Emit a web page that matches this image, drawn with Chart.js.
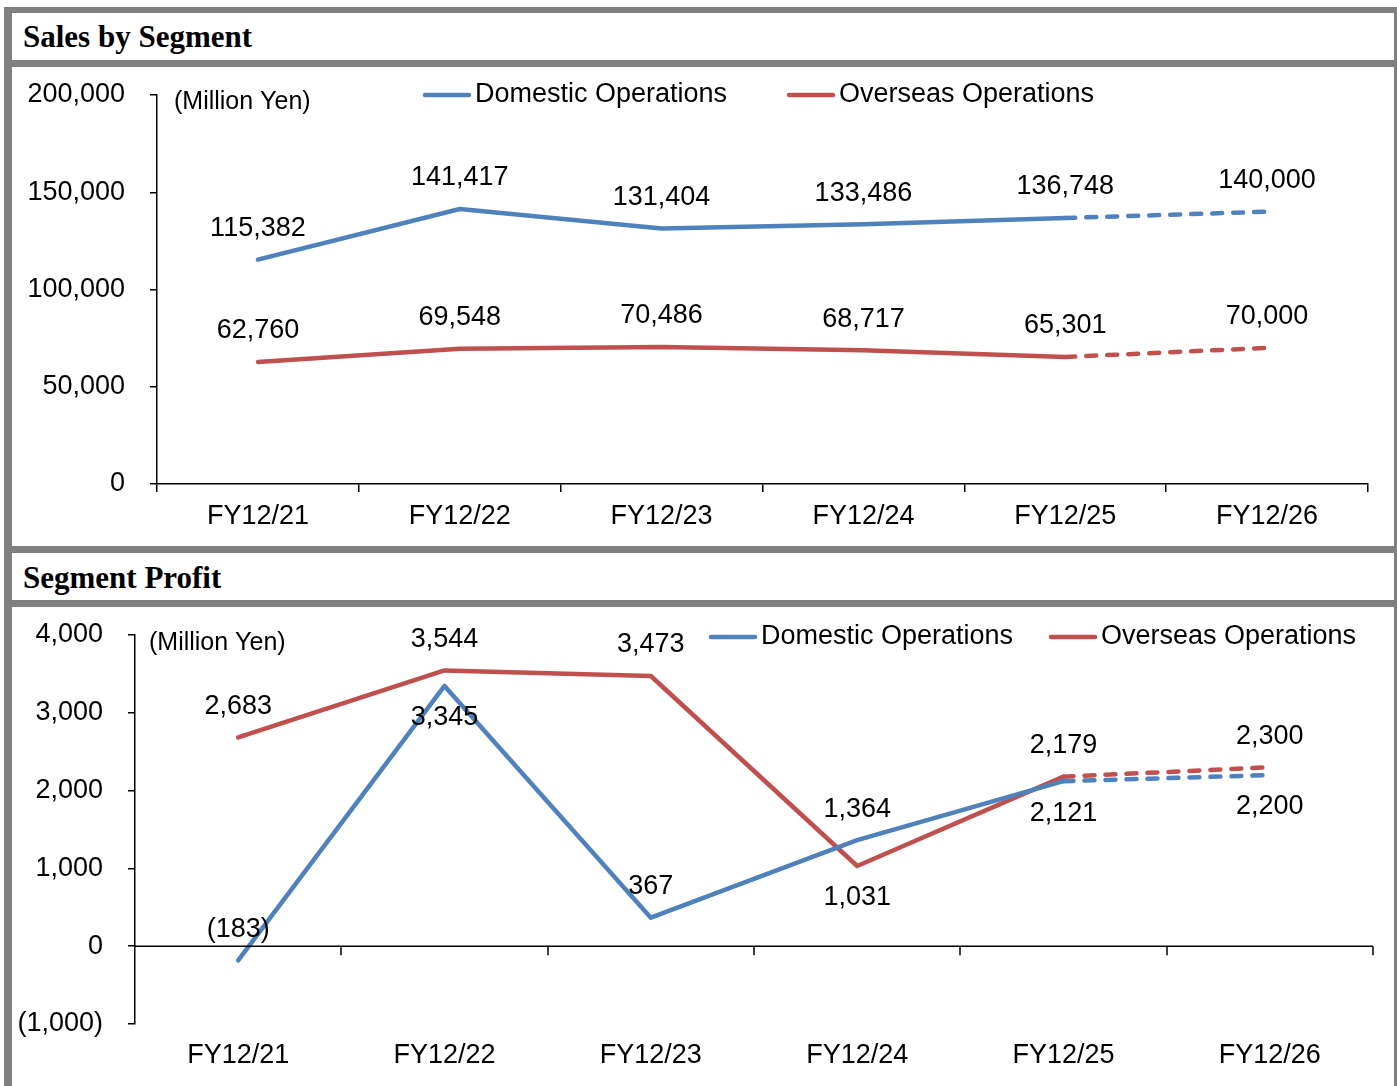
<!DOCTYPE html>
<html>
<head>
<meta charset="utf-8">
<script src="https://cdn.jsdelivr.net/npm/chart.js@4.4.1/dist/chart.umd.min.js"></script>
<style>
  body { margin: 0; background: #fff; width: 1397px; height: 1086px; overflow: hidden; position: relative; }
  .g { position: absolute; background: #808080; }
  .title { position: absolute; left: 23px; font: bold 31px "Liberation Serif", "Times New Roman", serif; line-height: 30px; color: #000; white-space: nowrap; }
  canvas { position: absolute; }
</style>
</head>
<body>
<div class="g" style="left:4px;top:7px;width:1393px;height:6px"></div>
<div class="g" style="left:4px;top:7px;width:8px;height:1079px"></div>
<div class="g" style="left:1394px;top:7px;width:3px;height:1079px"></div>
<div class="g" style="left:4px;top:60px;width:1393px;height:7px"></div>
<div class="g" style="left:4px;top:546px;width:1393px;height:7px"></div>
<div class="g" style="left:4px;top:600px;width:1393px;height:7px"></div>
<div class="title" style="top:22px">Sales by Segment</div>
<div class="title" style="top:563px">Segment Profit</div>
<canvas id="salesChart" width="1382" height="479" style="left:12px;top:67px"></canvas>
<canvas id="profitChart" width="1382" height="479" style="left:12px;top:607px"></canvas>
<script>
const years = ["FY12/21", "FY12/22", "FY12/23", "FY12/24", "FY12/25", "FY12/26"];
const salesDomestic = [115382, 141417, 131404, 133486, 136748, 140000];
const salesOverseas = [62760, 69548, 70486, 68717, 65301, 70000];
const profitDomestic = [-183, 3345, 367, 1364, 2121, 2200];
const profitOverseas = [2683, 3544, 3473, 1031, 2179, 2300];

const BLUE = "#4F81BD";
const RED = "#C0504D";
const FONT = "'Liberation Sans', Arial, sans-serif";
const FS = 27;

function fmt(v) {
  const s = Math.abs(v).toLocaleString("en-US");
  return v < 0 ? "(" + s + ")" : s;
}

// forecast year drawn dashed
const dashed = { borderDash: (ctx) => (ctx.p0DataIndex >= 4 ? [10, 11] : undefined) };

function series(label, data, color, below) {
  return {
    label, data, borderColor: color, backgroundColor: color,
    borderWidth: 4.5, pointRadius: 0, borderCapStyle: "round", borderJoinStyle: "round",
    tension: 0, segment: dashed, labelBelow: below || [],
  };
}

const valueLabels = {
  id: "valueLabels",
  afterDatasetsDraw(chart) {
    const ctx = chart.ctx;
    ctx.save();
    ctx.font = FS + "px " + FONT;
    ctx.fillStyle = "#000";
    ctx.textAlign = "center";
    ctx.textBaseline = "middle";
    chart.data.datasets.forEach((ds, di) => {
      chart.getDatasetMeta(di).data.forEach((pt, i) => {
        const dy = ds.labelBelow.includes(i) ? 32 : -31;
        ctx.fillText(fmt(ds.data[i]), pt.x, pt.y + dy);
      });
    });
    ctx.restore();
  },
};

const extras = {
  id: "extras",
  afterDraw(chart, args, opts) {
    const ctx = chart.ctx;
    ctx.save();
    ctx.font = "25px " + FONT;
    ctx.fillStyle = "#000";
    ctx.textBaseline = "middle";
    ctx.fillText("(Million Yen)", opts.unit[0], opts.unit[1]);
    ctx.font = FS + "px " + FONT;
    chart.data.datasets.forEach((ds, i) => {
      const [x, y] = opts.legend[i];
      ctx.strokeStyle = ds.borderColor;
      ctx.lineWidth = 4.5;
      ctx.lineCap = "round";
      ctx.beginPath();
      ctx.moveTo(x, y);
      ctx.lineTo(x + 44, y);
      ctx.stroke();
      ctx.fillText(ds.label, x + 50, y);
    });
    ctx.restore();
  },
};

const zeroLine = {
  id: "zeroLine",
  afterDatasetsDraw(chart, args, opts) {
    if (!opts.show) return;
    const { ctx, chartArea } = chart;
    const x = chart.scales.x, y = chart.scales.y;
    const y0 = y.getPixelForValue(0);
    ctx.save();
    ctx.strokeStyle = "#000";
    ctx.lineWidth = 1.5;
    ctx.beginPath();
    ctx.moveTo(chartArea.left, y0);
    ctx.lineTo(chartArea.right, y0);
    for (let i = 1; i <= years.length; i++) {
      const px = Math.round(x.getPixelForValue(i - 0.5));
      ctx.moveTo(px, y0);
      ctx.lineTo(px, y0 + 9);
    }
    ctx.stroke();
    ctx.restore();
  },
};

function makeChart(id, dsets, yMin, yMax, step, cfg) {
  return new Chart(document.getElementById(id), {
    type: "line",
    data: { labels: years, datasets: dsets },
    plugins: [zeroLine, valueLabels, extras],
    options: {
      responsive: false,
      animation: false,
      devicePixelRatio: 1,
      layout: { padding: { top: cfg.top, right: cfg.right, left: 0, bottom: 0 } },
      plugins: {
        legend: { display: false },
        tooltip: { enabled: false },
        extras: { unit: cfg.unit, legend: cfg.legend },
        zeroLine: { show: cfg.zero },
      },
      scales: {
        x: {
          offset: true,
          border: { display: !cfg.zero, color: "#000", width: 1.5 },
          grid: { display: !cfg.zero, offset: true, drawOnChartArea: false, tickLength: 8, color: "#000", lineWidth: 1.5 },
          ticks: { color: "#000", font: { family: FONT, size: FS }, padding: cfg.zero ? 7 : 8, maxRotation: 0 },
          afterFit: (s) => { s.height = 62; s.paddingLeft = 0; s.paddingRight = 0; },
        },
        y: {
          min: yMin, max: yMax,
          border: { color: "#000", width: 1.5 },
          grid: { drawOnChartArea: false, tickLength: 7, color: "#000", lineWidth: 1.5 },
          ticks: { stepSize: step, color: "#000", font: { family: FONT, size: FS }, padding: 25, callback: (v) => fmt(v) },
          afterFit: (s) => { s.width = cfg.left; s.paddingTop = 0; s.paddingBottom = 0; },
        },
      },
    },
  });
}

makeChart("salesChart",
  [series("Domestic Operations", salesDomestic, BLUE), series("Overseas Operations", salesOverseas, RED)],
  0, 200000, 50000,
  { top: 28, left: 145, right: 26, zero: false, unit: [162, 35], legend: [[413, 28], [777, 28]] });

makeChart("profitChart",
  [series("Domestic Operations", profitDomestic, BLUE, [1, 4, 5]), series("Overseas Operations", profitOverseas, RED, [3])],
  -1000, 4000, 1000,
  { top: 28, left: 123, right: 21, zero: true, unit: [137, 36], legend: [[699, 30], [1039, 30]] });
</script>
</body>
</html>
